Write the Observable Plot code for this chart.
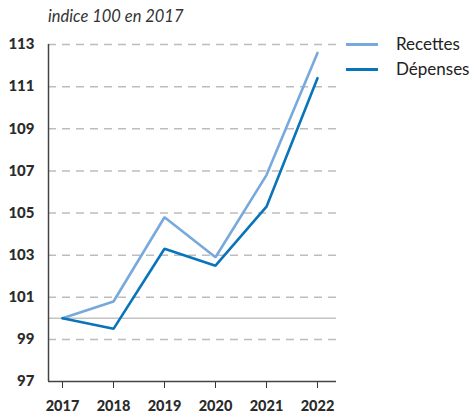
<!DOCTYPE html>
<html><head><meta charset="utf-8">
<script src="https://cdn.jsdelivr.net/npm/d3@7"></script>
<script src="https://cdn.jsdelivr.net/npm/@observablehq/plot@0.6"></script>
<style>
body{margin:0;background:#fff;}
#wrap{position:relative;width:476px;height:416px;font-family:Lato,"Open Sans",sans-serif;color:#222;}
#sub{position:absolute;left:48px;top:6px;font-size:16.5px;font-style:italic;color:#333;}
.leg{position:absolute;left:346px;display:flex;align-items:center;font-size:17px;color:#222;line-height:20px;}
.leg span.sw{display:inline-block;width:32px;height:3px;margin-right:18px;}
</style></head>
<body><div id="wrap"><div id="chart"></div><div id="sub">indice 100 en 2017</div><div id="legend"></div></div>
<script>
const years = [2017, 2018, 2019, 2020, 2021, 2022];
const recettes = [100, 100.8, 104.8, 102.9, 106.8, 112.6];
const depenses = [100, 99.5, 103.3, 102.5, 105.3, 111.4];
const yTicks = [97, 99, 101, 103, 105, 107, 109, 111, 113];
const seriesNames = ["Recettes", "Dépenses"];
const seriesColors = ["#78a9dc", "#0a74bb"];
const baseline = 100;

const data = [];
years.forEach((y, i) => {
  data.push({year: y, value: recettes[i], serie: seriesNames[0]});
  data.push({year: y, value: depenses[i], serie: seriesNames[1]});
});

const chart = Plot.plot({
  width: 476, height: 416,
  marginLeft: 48, marginRight: 140, marginTop: 44, marginBottom: 35,
  style: {fontFamily: "Lato, 'Open Sans', sans-serif", background: "#fff"},
  x: {domain: [2016.725, 2022.373], ticks: years, tickFormat: d => String(d), label: null},
  y: {domain: [97, 113], ticks: yTicks, label: null},
  color: {domain: seriesNames, range: seriesColors},
  marks: [
    Plot.ruleY(yTicks.filter(t => t > 97), {stroke: "#bdbdbd", strokeWidth: 1.5, strokeDasharray: "8,6"}),
    Plot.ruleY([baseline], {stroke: "#c4c4c4", strokeWidth: 1.5}),
    Plot.axisX({ticks: years, tickFormat: d => String(d), label: null, tickSize: 7, tickPadding: 12, fontSize: 14.5, fontWeight: "900", color: "#2b2b2b", stroke: "#333"}),
    Plot.axisY({ticks: yTicks, label: null, tickSize: 0, tickPadding: 14, fontSize: 15, fontWeight: "900", color: "#2b2b2b"}),
    Plot.ruleY([97], {stroke: "#444", strokeWidth: 1.5}),
    Plot.ruleX([2016.725], {stroke: "#444", strokeWidth: 1.5}),
    Plot.line(data, {x: "year", y: "value", z: "serie", stroke: "serie", strokeWidth: 2.6, strokeLinejoin: "miter"})
  ]
});
document.getElementById("chart").appendChild(chart);

const leg = document.getElementById("legend");
seriesNames.forEach((n, i) => {
  const d = document.createElement("div");
  d.className = "leg";
  d.style.top = (34 + i * 25) + "px";
  d.innerHTML = `<span class="sw" style="background:${seriesColors[i]}"></span>${n}`;
  leg.appendChild(d);
});
</script></body></html>
